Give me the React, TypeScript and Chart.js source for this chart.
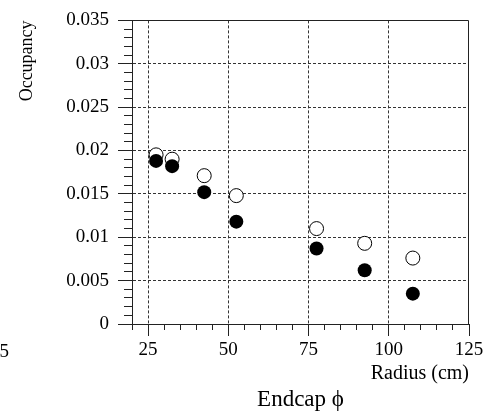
import React, { useEffect, useRef } from "react";
import { Chart, registerables } from "chart.js";

Chart.register(...registerables);

// ---- data ----
const radius = [27.5, 32.5, 42.5, 52.5, 77.5, 92.5, 107.5];
const openOccupancy = [0.0195, 0.019, 0.0171, 0.0148, 0.011, 0.0093, 0.0076];
const filledOccupancy = [0.0188, 0.0182, 0.0152, 0.0118, 0.0087, 0.0062, 0.0035];

// ---- axes ----
const xMin = 20;
const xMax = 125;
const xMajorTicks = [25, 50, 75, 100, 125];
const xTickLabels = ["25", "50", "75", "100", "125"];
const xMinorTicks = [20, 25, 30, 35, 40, 45, 50, 55, 60, 65, 70, 75, 80, 85, 90, 95, 100, 105, 110, 115, 120, 125];

const yMin = 0;
const yMax = 0.035;
const yMajorTicks = [0, 0.005, 0.01, 0.015, 0.02, 0.025, 0.03, 0.035];
const yTickLabels = ["0", "0.005", "0.01", "0.015", "0.02", "0.025", "0.03", "0.035"];
const yMinorTicks = [
  0, 0.001, 0.002, 0.003, 0.004, 0.005, 0.006, 0.007, 0.008, 0.009,
  0.01, 0.011, 0.012, 0.013, 0.014, 0.015, 0.016, 0.017, 0.018, 0.019,
  0.02, 0.021, 0.022, 0.023, 0.024, 0.025, 0.026, 0.027, 0.028, 0.029,
  0.03, 0.031, 0.032, 0.033, 0.034, 0.035,
];

const xTitle = "Radius (cm)";
const yTitle = "Occupancy";
const chartTitle = "Endcap \u03d5";
const strayLabel = "5";

const FONT = "'Liberation Serif', 'Times New Roman', serif";
const LINE = "#222";
const GRID = "#333";
const CLEAR = "rgba(0,0,0,0)";

const framePlugin = {
  id: "frame",
  beforeDatasetsDraw(chart: any) {
    const { ctx, chartArea } = chart;
    ctx.save();
    ctx.strokeStyle = LINE;
    ctx.lineWidth = 1;
    ctx.beginPath();
    const top = Math.round(chartArea.top) + 0.5;
    const right = Math.round(chartArea.right) - 0.5;
    ctx.moveTo(Math.round(chartArea.left), top);
    ctx.lineTo(right, top);
    ctx.lineTo(right, Math.round(chartArea.bottom));
    ctx.stroke();
    ctx.restore();
  },
  afterDraw(chart: any) {
    const { ctx } = chart;
    ctx.save();
    ctx.fillStyle = "#000";
    ctx.font = `19px ${FONT}`;
    ctx.textAlign = "left";
    ctx.textBaseline = "alphabetic";
    ctx.fillText(strayLabel, -0.5, 356.5);
    ctx.restore();
  },
};

function setTicks(values: number[]) {
  return (axis: any) => {
    axis.ticks = values.map((v) => ({ value: v }));
  };
}

export default function App() {
  const ref = useRef<HTMLCanvasElement | null>(null);

  useEffect(() => {
    if (!ref.current) return;
    const chart = new Chart(ref.current, {
      type: "scatter",
      data: {
        datasets: [
          {
            label: "filled",
            data: radius.map((r, i) => ({ x: r, y: filledOccupancy[i] })),
            pointStyle: "circle",
            pointRadius: 7,
            pointBackgroundColor: "#000",
            pointBorderColor: "#000",
            pointBorderWidth: 0,
            showLine: false,
          },
          {
            label: "open",
            data: radius.map((r, i) => ({ x: r, y: openOccupancy[i] })),
            pointStyle: "circle",
            pointRadius: 7,
            pointBackgroundColor: "#fff",
            pointBorderColor: "#000",
            pointBorderWidth: 1,
            showLine: false,
          },
        ],
      },
      options: {
        responsive: false,
        animation: false,
        devicePixelRatio: 1,
        events: [],
        layout: { padding: { left: 0, top: 15, right: 32, bottom: 0 } },
        plugins: {
          legend: { display: false },
          tooltip: { enabled: false },
          title: {
            display: true,
            text: chartTitle,
            position: "bottom",
            fullSize: false,
            color: "#000",
            font: { family: FONT, size: 23, weight: "normal", lineHeight: 1.2 },
            padding: { top: 0, bottom: 6.4 },
          },
        },
        scales: {
          xMinor: {
            type: "linear",
            position: "bottom",
            weight: 0,
            min: xMin,
            max: xMax,
            afterBuildTicks: setTicks(xMinorTicks),
            afterFit: (s: any) => {
              s.height = 0;
            },
            ticks: { display: false },
            border: { display: false },
            grid: {
              drawOnChartArea: false,
              drawTicks: true,
              tickLength: 6,
              color: LINE,
              tickColor: LINE,
              tickWidth: 1,
            },
          },
          x: {
            type: "linear",
            position: "bottom",
            weight: 1,
            min: xMin,
            max: xMax,
            afterBuildTicks: setTicks(xMajorTicks),
            afterFit: (s: any) => {
              s.height = 62;
            },
            ticks: {
              autoSkip: false,
              maxRotation: 0,
              padding: 3,
              color: "#000",
              font: { family: FONT, size: 19 },
              callback: (v: any) => {
                const i = xMajorTicks.indexOf(Number(v));
                return i >= 0 ? xTickLabels[i] : "";
              },
            },
            border: { display: true, color: LINE, width: 1, dash: [3, 2] },
            grid: {
              drawOnChartArea: true,
              drawTicks: true,
              tickLength: 12,
              tickColor: LINE,
              tickWidth: 1,
              lineWidth: 1,
              color: (c: any) =>
                c.tick && (c.tick.value === xMax || c.tick.value === xMin) ? CLEAR : GRID,
            },
            title: {
              display: true,
              text: xTitle,
              align: "end",
              color: "#000",
              font: { family: FONT, size: 20 },
              padding: { top: 0, bottom: 0.5 },
            },
          },
          yMinor: {
            type: "linear",
            position: "left",
            weight: 0,
            min: yMin,
            max: yMax,
            afterBuildTicks: setTicks(yMinorTicks),
            afterFit: (s: any) => {
              s.width = 0;
            },
            ticks: { display: false },
            border: { display: false },
            grid: {
              drawOnChartArea: false,
              drawTicks: true,
              tickLength: 8,
              color: LINE,
              tickColor: LINE,
              tickWidth: 1,
            },
          },
          y: {
            type: "linear",
            position: "left",
            weight: 1,
            min: yMin,
            max: yMax,
            afterBuildTicks: setTicks(yMajorTicks),
            afterFit: (s: any) => {
              s.width = 132;
            },
            ticks: {
              autoSkip: false,
              padding: 9,
              color: "#000",
              font: { family: FONT, size: 19 },
              callback: (v: any) => {
                const n = Number(v);
                const i = yMajorTicks.findIndex((t) => Math.abs(t - n) < 1e-9);
                return i >= 0 ? yTickLabels[i] : "";
              },
            },
            border: { display: true, color: LINE, width: 1, dash: [3, 2] },
            grid: {
              drawOnChartArea: true,
              drawTicks: true,
              tickLength: 14,
              tickColor: LINE,
              tickWidth: 1,
              lineWidth: 1,
              color: (c: any) =>
                c.tick && (Math.abs(c.tick.value - yMin) < 1e-9 || Math.abs(c.tick.value - yMax) < 1e-9)
                  ? CLEAR
                  : GRID,
            },
            title: {
              display: true,
              text: yTitle,
              align: "end",
              color: "#000",
              font: { family: FONT, size: 18 },
              padding: { top: 16, bottom: 0 },
            },
          },
        },
      } as any,
      plugins: [framePlugin],
    });
    return () => chart.destroy();
  }, []);

  return (
    <div style={{ position: "fixed", left: 0, top: 0, width: 501, height: 420, background: "#fff" }}>
      <canvas ref={ref} width={501} height={420} style={{ display: "block", width: 501, height: 420 }} />
    </div>
  );
}
